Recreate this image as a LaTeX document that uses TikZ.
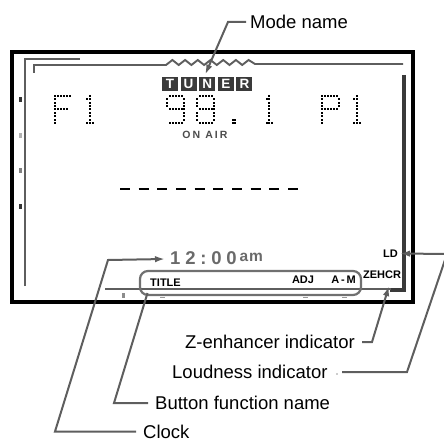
\documentclass[tikz,border=0pt]{standalone}
\usepackage{fontspec}
\setmainfont{Liberation Sans}
\usetikzlibrary{arrows.meta}
\definecolor{cgray}{HTML}{5E5E5E}
\definecolor{lgray}{HTML}{6A6A6A}
\definecolor{tunerfill}{HTML}{3A3A3A}
\definecolor{boxgray}{HTML}{707070}
\newcommand{\dmrow}[4]{\foreach \c in {#3,...,#4} {\fill ({#1+\c*2.9-1},{96+#2*3.375-1}) rectangle ++(2,2);}}
\newcommand{\dmcol}[4]{\foreach \r in {#3,...,#4} {\fill ({#1+#2*2.9-1},{96+\r*3.375-1}) rectangle ++(2,2);}}
\begin{document}
\begin{tikzpicture}[x=1pt,y=-1pt,
  conn/.style={draw=cgray, line width=2pt},
  tip/.style={-{Latex[length=10pt,width=6.5pt]}},
  lbl/.style={inner sep=0pt, font=\fontsize{18.5}{20}\selectfont},
  tinylbl/.style={inner sep=0pt, font=\fontsize{11}{12}\selectfont\bfseries},
  tbox/.style={fill=tunerfill, minimum width=16pt, minimum height=14.5pt, inner sep=0pt, text=white, font=\fontsize{13.5}{13.5}\selectfont\bfseries},
  inner/.style={draw=cgray, line width=1.9pt}
]
\path[use as bounding box] (0,0) rectangle (444,441);
\clip (0,0) rectangle (444,441);
% outer frame
\draw[line width=3.6pt] (12,52) rectangle (413,302);
% inner gray lines
\draw[inner] (25,286) -- (25,59) -- (80,59);
\draw[inner] (34,73) -- (34,65) -- (166,65)
  -- (172.4,60) -- (178.7,65) -- (185.1,60) -- (191.4,65) -- (197.8,60) -- (204.1,65)
  -- (210.5,60) -- (216.8,65) -- (223.2,60) -- (229.5,65) -- (235.9,60) -- (242.2,65)
  -- (248.6,60) -- (255,64) -- (403,64);
\draw[draw=tunerfill, line width=3.4pt] (404,75) -- (404,290) -- (390,290);
\draw[inner] (105,289) -- (391,289);
% left squares
\fill[black!80] (18.5,97) rectangle (21.5,102);
\fill[black!30] (18.5,133) rectangle (21.5,138);
\fill[black!50] (18.5,168) rectangle (21.5,173);
\fill[black!80] (18.5,204) rectangle (21.5,209);
% bottom small marks
\fill[black!45] (121.5,293) rectangle (124.5,297.5);
\fill[black!40] (160,296.5) rectangle (164.5,298);
\fill[black!40] (303,296.5) rectangle (307.5,298);
\fill[black!40] (342,296.5) rectangle (346.5,298);
% TUNER
\node[tbox] (tT) at (170,84) {T};
\node[tbox] (tU) at (188.6,84) {U};
\node[tbox] (tN) at (207.2,84) {N};
\node[tbox] (tE) at (225.8,84) {E};
\node[tbox] (tR) at (244.4,84) {R};
% dot matrix F1
\dmcol{55}{0}{0}{8} \dmrow{55}{0}{1}{5} \dmrow{55}{4}{1}{4}
\dmcol{87.1}{1}{0}{8} \dmrow{87.1}{1}{0}{0} \dmrow{87.1}{8}{0}{2}
% 98.1
\dmrow{167}{0}{1}{5} \dmcol{167}{0}{1}{3} \dmrow{167}{4}{1}{5} \dmcol{167}{6}{1}{7} \dmrow{167}{8}{1}{5}
\dmrow{197}{0}{1}{5} \dmcol{197}{0}{1}{3} \dmrow{197}{4}{1}{5} \dmcol{197}{6}{1}{7} \dmrow{197}{8}{1}{5} \dmcol{197}{0}{5}{7}
\dmrow{232.5}{7}{0}{1} \dmrow{232.5}{8}{0}{1}
\dmcol{266.5}{1}{0}{8} \dmrow{266.5}{1}{0}{0} \dmrow{266.5}{8}{0}{2}
% P1
\dmcol{322}{0}{0}{8} \dmrow{322}{0}{1}{5} \dmcol{322}{6}{1}{3} \dmrow{322}{4}{1}{5}
\dmcol{354}{1}{0}{8} \dmrow{354}{1}{0}{0} \dmrow{354}{8}{0}{2}
% ON AIR
\node[inner sep=0pt, text=black!70, font=\fontsize{10.5}{11}\selectfont\bfseries\addfontfeatures{LetterSpace=20}] (onair) at (205,135) {ON AIR};
% dashes
\draw[line width=2.6pt, dash pattern=on 10pt off 8.67pt] (120,189) -- (298,189);
% clock
\node[inner sep=0pt, anchor=west, text=lgray, font=\fontsize{18.5}{18.5}\selectfont\bfseries\addfontfeatures{LetterSpace=26}] (clock) at (170,258) {12:00};
\node[inner sep=0pt, anchor=west, text=lgray, font=\fontsize{15.5}{15.5}\selectfont\bfseries\addfontfeatures{LetterSpace=5}] (am) at (239.5,257.5) {am};
% button box
\draw[draw=boxgray, line width=2.2pt, rounded corners=8pt] (140,271) rectangle (361,295);
\node[tinylbl] (title) at (165.5,283) {TITLE};
\node[tinylbl] (adj) at (303,279.5) {ADJ};
\node[tinylbl] (am2) at (343.5,279.5) {A\,-\,M};
\coordinate (btnbox) at (147.5,293);
% indicators
\node[tinylbl] (zehcr) at (382,275) {ZEHCR};
\node[tinylbl] (ld) at (390.5,253.5) {LD};
% labels
\node[lbl, anchor=west] (modelbl) at (250,22) {Mode name};
\node[lbl, anchor=east] (zlbl) at (355,342) {Z-enhancer indicator};
\node[lbl, anchor=west] (loudlbl) at (172,372) {Loudness indicator};
\node[lbl, anchor=west] (btnlbl) at (155,403) {Button function name};
\node[lbl, anchor=west] (clocklbl) at (143,431.5) {Clock};
\fill[black!40] (337,374) circle (0.9pt);
% connectors
\draw[conn, tip] ([xshift=-4pt]modelbl.west) -- (228,22) -- ([shift={(-2,-2)}]tN.north);
\draw[conn, tip] ([shift={(7,0)}]zlbl.east) -- (372,342) -- ([shift={(7,7)}]zehcr.south);
\draw[conn, tip] ([shift={(170,0)}]loudlbl.west) -- (407,372) -- (447,254) -- ([shift={(2,0)}]ld.east);
\draw[conn] ([shift={(-7,0)}]btnlbl.west) -- (114,403) -- (btnbox);
\draw[conn, tip] ([shift={(-7,0)}]clocklbl.west) -- (55,431.5) -- (108,260) -- ([shift={(-5,1)}]clock.west);
\end{tikzpicture}
\end{document}
